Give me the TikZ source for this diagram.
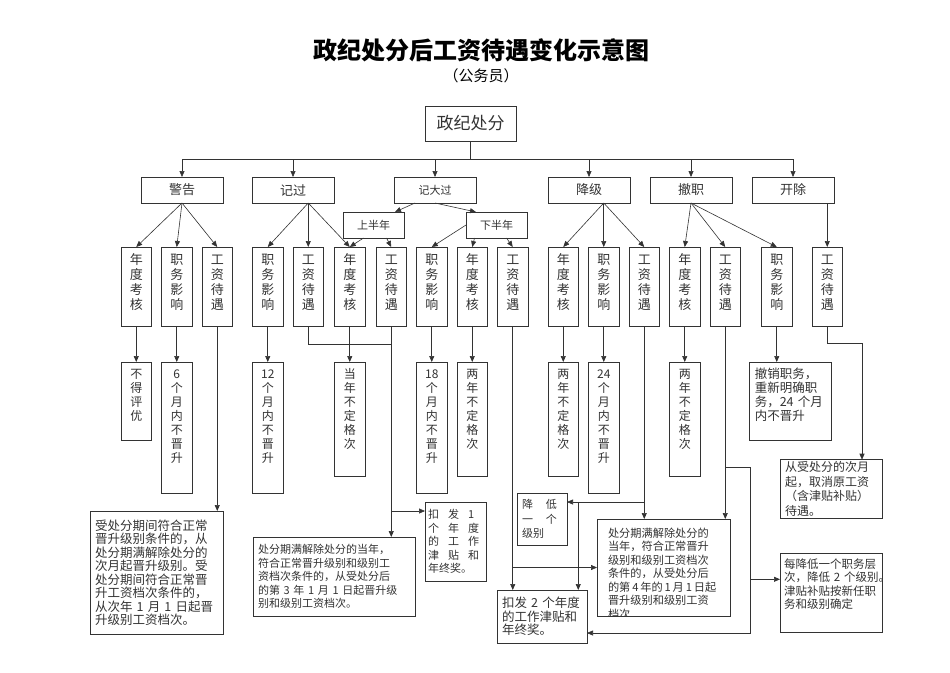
\documentclass[tikz,border=0pt]{standalone}
\usepackage{fontspec}
\setmainfont{Noto Sans CJK SC}
\usetikzlibrary{arrows.meta,positioning,calc}
\tikzset{
  every node/.style={outer sep=0pt},
  rootbox/.style={draw, rectangle, minimum width=91pt, minimum height=35pt, font=\fontsize{17}{20}\selectfont, thick},
  cat/.style={draw, rectangle, minimum width=82pt, minimum height=26pt, font=\fontsize{13}{15}\selectfont, semithick},
  half/.style={draw, rectangle, minimum width=61pt, minimum height=26pt, font=\fontsize{11}{13}\selectfont, semithick},
  vbox/.style={draw, rectangle, text width=16pt, minimum width=30.5pt, align=center, inner xsep=0pt, inner ysep=3pt, text height=14pt, text depth=#1, font=\fontsize{13}{15}\selectfont, semithick},
  rbox/.style={draw, rectangle, text width=16pt, minimum width=30.5pt, align=center, inner xsep=0pt, inner ysep=3pt, text height=13pt, text depth=#1, font=\fontsize{12}{14}\selectfont, semithick},
  note/.style={draw, rectangle, align=left, inner xsep=5pt, inner ysep=3pt, font=\fontsize{11.5}{13.5}\selectfont, semithick},
  arr/.style={-{Triangle[length=6pt, width=5pt]}, semithick},
}
\begin{document}
\begin{tikzpicture}[x=1pt, y=-1pt, color=black!80]
\fill[white] (0,0) rectangle (950,672);
\useasboundingbox (0,0) rectangle (950,672);

\node[text=black, font=\bfseries\fontsize{24}{28}\selectfont] (title) at (481,50) {政纪处分后工资待遇变化示意图};
\node[text=black, font=\fontsize{15}{18}\selectfont] (sub) at (481,76) {（公务员）};

\node[rootbox] (root) at (470.5,123.5) {政纪处分};

\node[cat] (jg) at (182,190) {警告};
\node[cat, right=29pt of jg] (jgu) {记过};
\node[cat, right=60pt of jgu, font=\fontsize{11}{13}\selectfont] (jdg) {记大过};
\node[cat, right=72pt of jdg] (jj) {降级};
\node[cat, right=20pt of jj] (cz) {撤职};
\node[cat, right=20pt of cz] (kc) {开除};

\node[half] (shb) at (373.5,225) {上半年};
\node[half, right=62pt of shb] (xhb) {下半年};

\node[vbox=59pt] (a1) at (136.25,286.5) {年\\度\\考\\核};
\node[vbox=59pt, right=10pt of a1] (a2) {职\\务\\影\\响};
\node[vbox=59pt, right=10pt of a2] (a3) {工\\资\\待\\遇};
\node[vbox=59pt, right=20pt of a3] (b1) {职\\务\\影\\响};
\node[vbox=59pt, right=10pt of b1] (b2) {工\\资\\待\\遇};
\node[vbox=59pt, right=11pt of b2] (b3) {年\\度\\考\\核};
\node[vbox=59pt, right=11pt of b3] (b4) {工\\资\\待\\遇};
\node[vbox=59pt, right=10pt of b4] (c1) {职\\务\\影\\响};
\node[vbox=59pt, right=10pt of c1] (c2) {年\\度\\考\\核};
\node[vbox=59pt, right=10pt of c2] (c3) {工\\资\\待\\遇};
\node[vbox=59pt, right=20pt of c3] (d1) {年\\度\\考\\核};
\node[vbox=59pt, right=10pt of d1] (d2) {职\\务\\影\\响};
\node[vbox=59pt, right=10pt of d2] (d3) {工\\资\\待\\遇};
\node[vbox=59pt, right=10pt of d3] (e1) {年\\度\\考\\核};
\node[vbox=59pt, right=10pt of e1] (e2) {工\\资\\待\\遇};
\node[vbox=59pt, right=21pt of e2] (e3) {职\\务\\影\\响};
\node[vbox=59pt, right=20pt of e3] (f1) {工\\资\\待\\遇};

\node[rbox=59pt, below=36pt of a1] (na1) {不\\得\\评\\优};
\node[rbox=112pt, below=36pt of a2] (na2) {6\\个\\月\\内\\不\\晋\\升};
\node[rbox=112pt, below=36pt of b1] (nb1) {12\\个\\月\\内\\不\\晋\\升};
\node[rbox=95pt, below=36pt of b3] (nb3) {当\\年\\不\\定\\格\\次};
\node[rbox=112pt, below=36pt of c1] (nc1) {18\\个\\月\\内\\不\\晋\\升};
\node[rbox=95pt, below=36pt of c2] (nc2) {两\\年\\不\\定\\格\\次};
\node[rbox=95pt, below=36pt of d1] (nd1) {两\\年\\不\\定\\格\\次};
\node[rbox=112pt, below=36pt of d2] (nd2) {24\\个\\月\\内\\不\\晋\\升};
\node[rbox=95pt, below=36pt of e1] (ne1) {两\\年\\不\\定\\格\\次};
\node[note, below=36pt of e3, xshift=14pt, text width=72pt, inner ysep=4pt, text height=12pt, text depth=58pt, font=\fontsize{12.5}{14}\selectfont] (ne3) {撤销职务，\\重新明确职\\务，24 个月\\内不晋升};

\node[note, text width=92pt, inner ysep=2pt, font=\fontsize{12}{14.5}\selectfont] (cq) at (831,489) {从受处分的次月\\起，取消原工资\\（含津贴补贴）\\待遇。};
\node[note, below=35pt of cq, text width=94pt, inner xsep=4pt, inner ysep=4pt, text height=11pt, text depth=60pt, font=\fontsize{11.5}{13.5}\selectfont] (mj) {每降低一个职务层\\次，降低~2~个级别。\\津贴补贴按新任职\\务和级别确定};

\node[note, text width=123pt, minimum height=123pt, font=\fontsize{12.5}{13.5}\selectfont] (sb1) at (156.5,572.5) {受处分期间符合正常\\晋升级别条件的，从\\处分期满解除处分的\\次月起晋升级别。受\\处分期间符合正常晋\\升工资档次条件的，\\从次年 1 月 1 日起晋\\升级别工资档次。};
\node[note, text width=152pt, minimum height=79pt, font=\fontsize{11}{13.5}\selectfont] (n3y) at (334,576.5) {处分期满解除处分的当年，\\符合正常晋升级别和级别工\\资档次条件的，从受处分后\\的第 3 年 1 月 1 日起晋升级\\别和级别工资档次。};
\node[note, text width=55pt, inner xsep=3pt, minimum height=79pt, font=\fontsize{11}{13.5}\selectfont] (k1) at (455.5,541.5) {扣\hspace{9pt}发\hspace{9pt}1\\个\hspace{9pt}年\hspace{9pt}度\\的\hspace{9pt}工\hspace{9pt}作\\津\hspace{9pt}贴\hspace{9pt}和\\年终奖。};
\node[note, text width=40pt, minimum height=52pt, font=\fontsize{11}{14.5}\selectfont] (jd1) at (542,519) {降\hspace{13pt}低\\一\hspace{13pt}个\\级别};
\node[note, below=45pt of jd1, text width=80pt, minimum height=53pt, font=\fontsize{12.5}{13.5}\selectfont] (k2) {扣发 2 个年度\\的工作津贴和\\年终奖。};
\node[draw, semithick, minimum width=133pt, minimum height=97pt, path picture={
  \node[anchor=north west, align=left, inner sep=0pt, minimum width=0pt, minimum height=0pt, font=\fontsize{11.2}{13.5}\selectfont] (n4t) at ($(path picture bounding box.north west)+(11,9)$) {处分期满解除处分的\\当年，符合正常晋升\\级别和级别工资档次\\条件的，从受处分后\\的第\,4\,年的\,1\,月\,1\,日起\\晋升级别和级别工资\\档次};
}] (n4) at (663.5,567.5) {};

\coordinate (bus) at ($(root.south)+(0,18)$);
\draw[semithick] (root.south) -- (bus);
\draw[semithick] (bus -| jg) -- (bus -| kc);
\draw[arr] (bus -| jg) -- (jg);
\draw[arr] (bus -| jgu) -- (jgu);
\draw[arr] (bus -| jdg) -- (jdg);
\draw[arr] (bus -| jj) -- (jj);
\draw[arr] (bus -| cz) -- (cz);
\draw[arr] (bus -| kc) -- (kc);

\draw[arr] (jg.south) -- (a1.north);
\draw[arr] (jg.south) -- (a2.north);
\draw[arr] (jg.south) -- (a3.north);
\draw[arr] (b2 |- jgu.south) -- (b1.north);
\draw[arr] (b2 |- jgu.south) -- (b2.north);
\draw[arr] (b2 |- jgu.south) -- (b3.north);
\draw[arr] ($(jdg.south)+(-20,0)$) -- ($(shb.north east)+(-9,0)$);
\draw[arr] (jdg.south) -- ($(xhb.north west)+(10,0)$);
\draw[arr] ($(shb.south)+(-10,0)$) -- (b3.north);
\draw[arr] ($(shb.south)+(13,0)$) -- (b4.north);
\draw[arr] (xhb.west) -- (c1.north);
\draw[arr] ($(xhb.south)+(-22,0)$) -- (c2.north);
\draw[arr] ($(xhb.south)+(10,0)$) -- (c3.north);
\draw[arr] (d2 |- jj.south) -- (d1.north);
\draw[arr] (d2 |- jj.south) -- (d2.north);
\draw[arr] (d2 |- jj.south) -- (d3.north);
\draw[arr] (cz.south) -- (e1.north);
\draw[arr] (cz.south) -- (e2.north);
\draw[arr] (cz.south) -- (e3.north);
\draw[arr] (f1 |- kc.south) -- (f1.north);

\draw[arr] (a1) -- (na1);
\draw[arr] (a2) -- (na2);
\draw[arr] (b1) -- (nb1);
\draw[arr] (b3) -- (nb3);
\draw[arr] (c1) -- (nc1);
\draw[arr] (c2) -- (nc2);
\draw[arr] (d1) -- (nd1);
\draw[arr] (d2) -- (nd2);
\draw[arr] (e1) -- (ne1);
\draw[arr] (e3.south) -- (e3.south |- ne3.north);
\draw[arr] (f1.south) -- ++(0,17) -| ($(cq.north east)+(-20,0)$);

\draw[arr] (a3) -- (a3 |- sb1.north);
\draw[semithick] (b2) |- ($(b4.south)+(0,18)$);
\draw[arr] (b4) -- (b4 |- n3y.north);
\draw[arr] (b4 |- k1.135) -- (k1.135);

\draw[arr] (c3) -- (c3 |- k2.north);
\draw[arr] (c3 |- n4.west) -- (n4.west);
\draw[arr] (d3) -- (d3 |- n4.north);
\coordinate (d3b) at ($(d3.south)+(0,176)$);
\coordinate (d3c) at ($(d3b)+(-66,0)$);
\draw[arr] (d3b) -- (d3b -| jd1.east);
\draw[arr] (d3c) -- (d3c |- k2.north);

\draw[arr] (e2) -- (e2 |- n4.north);
\coordinate (e2b) at ($(e2.south)+(0,141)$);
\coordinate (e2c) at ($(e2b)+(25,0)$);
\coordinate (mjin) at ($(mj.north west)+(0,26)$);
\draw[semithick] (e2b) -- (e2c);
\draw[arr] (e2c) |- ($(k2.south east)+(0,-10)$);
\draw[arr] (e2c |- mjin) -- (mjin);

\end{tikzpicture}
\end{document}
